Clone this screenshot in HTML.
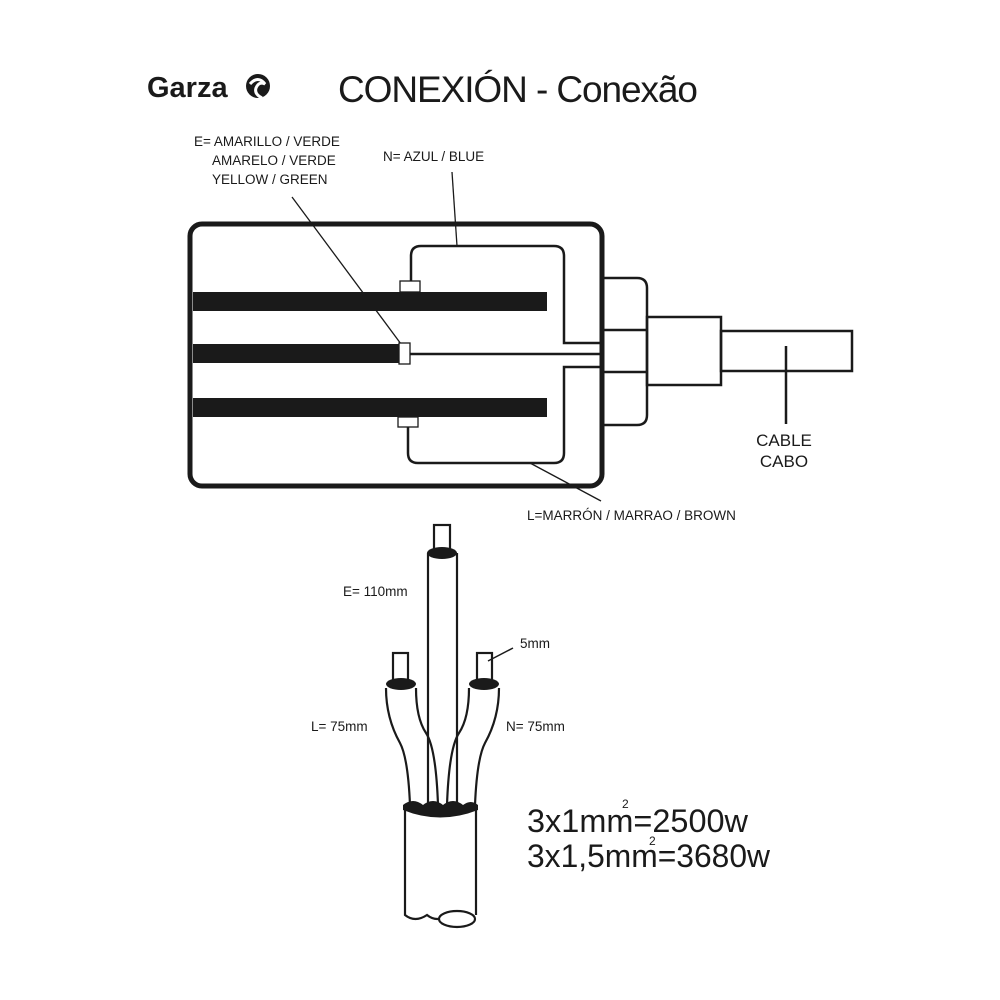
<!DOCTYPE html>
<html><head><meta charset="utf-8"><style>
html,body{margin:0;padding:0;background:#fff;}
svg{display:block;font-family:"Liberation Sans",sans-serif;}
</style></head><body>
<svg width="1000" height="1000" viewBox="0 0 1000 1000" xmlns="http://www.w3.org/2000/svg">
<rect width="1000" height="1000" fill="#fff"/>
<text x="147" y="97" font-size="29" font-weight="bold" fill="#1a1a1a">Garza</text>
<circle cx="258" cy="86" r="12" fill="#1a1a1a"/>
<path d="M250 84 q8 -9 15 0 q-6 -3 -9 4 q-2 6 6 10" stroke="#fff" stroke-width="3" fill="none"/>
<text x="338" y="102" font-size="37" fill="#1a1a1a" textLength="360">CONEXIÓN - Conexão</text>

<g font-size="13.5" fill="#1a1a1a">
<text x="194" y="146">E= AMARILLO / VERDE</text>
<text x="212" y="165">AMARELO / VERDE</text>
<text x="212" y="184">YELLOW / GREEN</text>
<text x="383" y="161">N= AZUL / BLUE</text>
<text x="527" y="520">L=MARRÓN / MARRAO / BROWN</text>
</g>

<g stroke="#1a1a1a" fill="none">
<rect x="190" y="224" width="412" height="262" rx="12" stroke-width="5"/>
<line x1="292" y1="197" x2="401" y2="344" stroke-width="1.3"/>
<line x1="452" y1="172" x2="457" y2="246" stroke-width="1.3"/>
<line x1="530" y1="463" x2="601" y2="501" stroke-width="1.3"/>
<path d="M411 281 V256 q0 -10 10 -10 H554 q10 0 10 10 V343 H600" stroke-width="2.5"/>
<path d="M410 354 H600" stroke-width="2.5"/>
<path d="M600 367 H564 V453 q0 10 -10 10 H418 q-10 0 -10 -10 V427" stroke-width="2.5"/>
<path d="M603 278 H637 q10 0 10 10 V415 q0 10 -10 10 H603" stroke-width="2.5"/>
<line x1="603" y1="330" x2="647" y2="330" stroke-width="2.5"/>
<line x1="603" y1="372" x2="647" y2="372" stroke-width="2.5"/>
<rect x="647" y="317" width="74" height="68" stroke-width="2.5"/>
<rect x="721" y="331" width="131" height="40" stroke-width="2.5"/>
<line x1="786" y1="346" x2="786" y2="424" stroke-width="2.5"/>
</g>
<rect x="193" y="292" width="354" height="19" fill="#1a1a1a"/>
<rect x="193" y="344" width="207" height="19" fill="#1a1a1a"/>
<rect x="193" y="398" width="354" height="19" fill="#1a1a1a"/>
<rect x="399" y="343" width="11" height="21" fill="#fff" stroke="#1a1a1a" stroke-width="1.3"/>
<rect x="400" y="281" width="20" height="11" fill="#fff" stroke="#1a1a1a" stroke-width="1.3"/>
<rect x="398" y="417" width="20" height="10" fill="#fff" stroke="#1a1a1a" stroke-width="1.3"/>
<text x="784" y="446" font-size="17" text-anchor="middle" fill="#1a1a1a">CABLE</text>
<text x="784" y="467" font-size="17" text-anchor="middle" fill="#1a1a1a">CABO</text>

<g stroke="#1a1a1a" stroke-width="2.2" fill="#fff">
<path d="M405 808 V915 q10 8 22 0 q10 8 21 0 M476 808 V915"/>
<ellipse cx="457" cy="919" rx="18" ry="8"/>
<path d="M386 688 q0 30 14 55 q8 15 10 62 M416 688 q0 30 10 45 q10 15 12 72"/>
<path d="M499 688 q0 30 -14 55 q-8 15 -10 62 M469 688 q0 30 -10 45 q-10 15 -12 72"/>
<path d="M428 553 V805 M457 553 V805"/>
<rect x="434" y="525" width="16" height="27"/>
<rect x="393" y="653" width="15" height="30"/>
<rect x="477" y="653" width="15" height="30"/>
</g>
<g fill="#1a1a1a">
<ellipse cx="442" cy="553" rx="15" ry="6"/>
<ellipse cx="401" cy="684" rx="15" ry="6"/>
<ellipse cx="484" cy="684" rx="15" ry="6"/>
<path d="M403 805 q10 -8 20 0 q10 -8 20 0 q10 -8 20 0 q8 -6 15 0 v5 q-38 15 -75 0 z"/>
</g>
<line x1="488" y1="661" x2="513" y2="648" stroke="#1a1a1a" stroke-width="1.5"/>
<g font-size="13.5" fill="#1a1a1a">
<text x="343" y="596">E= 110mm</text>
<text x="520" y="648">5mm</text>
<text x="311" y="731">L= 75mm</text>
<text x="506" y="731">N= 75mm</text>
</g>
<g font-size="32" fill="#1a1a1a">
<text x="527" y="832" textLength="221" lengthAdjust="spacingAndGlyphs">3x1mm=2500w</text>
<text x="527" y="867" textLength="243" lengthAdjust="spacingAndGlyphs">3x1,5mm=3680w</text>
</g>
<text x="622" y="808" font-size="12" fill="#1a1a1a">2</text>
<text x="649" y="845" font-size="12" fill="#1a1a1a">2</text>
</svg>
</body></html>
